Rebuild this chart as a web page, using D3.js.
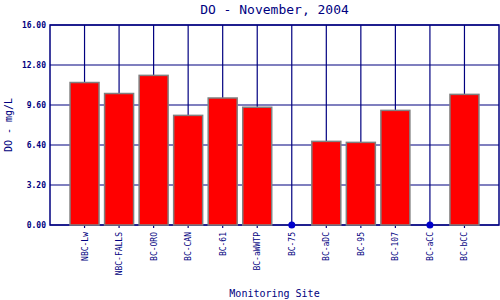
<!DOCTYPE html>
<html>
<head>
<meta charset="utf-8">
<script src="https://cdn.jsdelivr.net/npm/d3@7"></script>
<style>
  body { margin: 0; background: #fff; }
  text { font-family: "DejaVu Sans Mono", monospace; fill: #000080; }
</style>
</head>
<body>
<div class="d3"></div>
<script>
  let sites = ['NBC-Lw', 'NBC-FALLS', 'BC-ORO', 'BC-CAN', 'BC-61', 'BC-aWWTP',
    'BC-75', 'BC-aDC', 'BC-95', 'BC-107', 'BC-aCC', 'BC-bCC'];
  let doValues = [11.4, 10.52, 11.97, 8.77, 10.16, 9.42, 0, 6.69, 6.61, 9.17, 0, 10.45];
  let yTicks = [0, 3.2, 6.4, 9.6, 12.8, 16];

  (() => {
    let width = 500;
    let height = 300;
    let plotLeft = 50, plotRight = 499, plotTop = 25, plotBottom = 225;

    let svg = d3.select('.d3').append('svg')
      .attr('width', width)
      .attr('height', height);

    let x = d3.scaleLinear().domain([0, sites.length + 1]).range([plotLeft, plotRight]);
    let y = d3.scaleLinear().domain([0, 16]).range([plotBottom, plotTop]);
    let navy = '#000080';

    // grid
    svg.append('g').selectAll('line')
      .data(yTicks).enter().append('line')
      .attr('x1', plotLeft).attr('x2', plotRight)
      .attr('y1', d => y(d)).attr('y2', d => y(d))
      .attr('stroke', navy).attr('stroke-width', 1.2);

    svg.append('g').selectAll('line')
      .data(sites).enter().append('line')
      .attr('x1', (d, i) => x(i + 1)).attr('x2', (d, i) => x(i + 1))
      .attr('y1', plotTop).attr('y2', plotBottom + 3)
      .attr('stroke', navy).attr('stroke-width', 1.2);

    svg.append('rect')
      .attr('x', plotLeft).attr('y', plotTop)
      .attr('width', plotRight - plotLeft).attr('height', plotBottom - plotTop)
      .attr('fill', 'none').attr('stroke', navy).attr('stroke-width', 1.5);

    // bars
    let bw = 29;
    let rows = doValues.map((v, i) => ({ v, i }));
    svg.append('g').selectAll('rect')
      .data(rows.filter(d => d.v > 0))
      .enter().append('rect')
      .attr('x', d => x(d.i + 1) - bw / 2)
      .attr('y', d => y(d.v))
      .attr('width', bw)
      .attr('height', d => y(0) - y(d.v))
      .attr('fill', '#ff0000')
      .attr('stroke', '#808080')
      .attr('stroke-width', 1.5);

    // zero values drawn as dots
    svg.append('g').selectAll('circle')
      .data(rows.filter(d => d.v === 0))
      .enter().append('circle')
      .attr('cx', d => x(d.i + 1))
      .attr('cy', d => y(d.v))
      .attr('r', 3.5)
      .attr('fill', '#0000cc');

    // y tick labels
    svg.append('g').selectAll('text')
      .data(yTicks).enter().append('text')
      .attr('x', plotLeft - 4)
      .attr('y', d => y(d) + 3)
      .attr('text-anchor', 'end')
      .attr('font-size', 8)
      .attr('font-weight', 'bold')
      .text(d => d.toFixed(2));

    // x tick labels
    svg.append('g').selectAll('text')
      .data(sites).enter().append('text')
      .attr('transform', (d, i) => `translate(${x(i + 1) + 3},${plotBottom + 7}) rotate(-90)`)
      .attr('text-anchor', 'end')
      .attr('font-size', 8)
      .text(d => d);

    svg.append('text')
      .attr('x', (plotLeft + plotRight) / 2)
      .attr('y', 14)
      .attr('text-anchor', 'middle')
      .attr('font-size', 13)
      .text('DO - November, 2004');

    svg.append('text')
      .attr('x', (plotLeft + plotRight) / 2)
      .attr('y', 297)
      .attr('text-anchor', 'middle')
      .attr('font-size', 10)
      .text('Monitoring Site');

    svg.append('text')
      .attr('transform', `translate(12,${(plotTop + plotBottom) / 2}) rotate(-90)`)
      .attr('text-anchor', 'middle')
      .attr('font-size', 10)
      .text('DO - mg/L');
  })();
</script>
</body>
</html>
